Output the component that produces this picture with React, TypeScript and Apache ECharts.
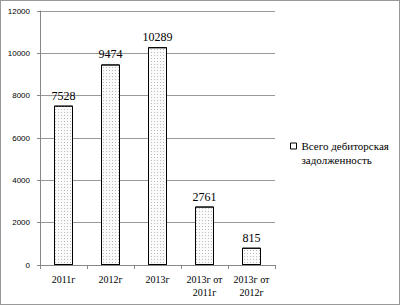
import React, { useEffect, useRef } from "react";
import * as echarts from "echarts";

const categories = ["2011г", "2012г", "2013г", "2013г от\n2011г", "2013г от\n2012г"];
const values = [7528, 9474, 10289, 2761, 815];
const seriesName = "Всего дебиторская задолженность";
const legendLines = ["Всего дебиторская", "задолженность"];
const yTicks = [0, 2000, 4000, 6000, 8000, 10000, 12000];

const serif = "Liberation Serif";

export default function App() {
  const ref = useRef<HTMLDivElement>(null);
  useEffect(() => {
    if (!ref.current) return;
    const chart = echarts.init(ref.current, null, { renderer: "svg" });
    const legendText = {
      fontFamily: serif,
      fontSize: 11,
      color: "#000",
      lineHeight: 14,
    };
    chart.setOption({
      animation: false,
      backgroundColor: "#fff",
      textStyle: { fontFamily: serif },
      grid: { left: 39, right: 124, top: 10, bottom: 39 },
      legend: {
        show: true,
        orient: "vertical",
        left: 289,
        top: 124,
        padding: 0,
        itemWidth: 6,
        itemHeight: 6,
        icon: "rect",
        formatter: () => "\n" + legendLines.join("\n"),
        textStyle: legendText,
        itemStyle: { color: "#fff", borderColor: "#000", borderWidth: 1, decal: "none" },
        data: [{ name: seriesName, textStyle: legendText }],
      },
      xAxis: {
        type: "category",
        data: categories,
        axisLine: { lineStyle: { color: "#888", width: 1 } },
        axisTick: { show: true, length: 4, lineStyle: { color: "#888" } },
        axisLabel: {
          fontFamily: serif,
          fontSize: 10,
          color: "#000",
          lineHeight: 13,
          margin: 8,
          interval: 0,
        },
      },
      yAxis: {
        type: "value",
        min: yTicks[0],
        max: yTicks[yTicks.length - 1],
        interval: 2000,
        axisLine: { show: true, lineStyle: { color: "#888" } },
        axisTick: { show: true, length: 3, lineStyle: { color: "#888" } },
        splitLine: { lineStyle: { color: "#999", width: 1 } },
        axisLabel: {
          fontFamily: "Liberation Sans",
          fontSize: 8,
          color: "#000",
          margin: 10,
          formatter: (v: number) => String(v),
        },
      },
      series: [
        {
          name: seriesName,
          type: "bar",
          data: values,
          barWidth: 19,
          itemStyle: {
            color: "#fbfbfb",
            borderColor: "#000",
            borderWidth: 1,
            decal: {
              symbol: "rect",
              symbolSize: 1,
              color: "#bbb",
              dashArrayX: [1, 2],
              dashArrayY: [1, 2],
              rotation: 0,
            },
          },
          label: {
            show: true,
            position: "top",
            distance: 4,
            fontFamily: serif,
            fontSize: 12,
            color: "#000",
          },
        },
      ],
    });
    return () => chart.dispose();
  }, []);
  return (
    <div
      ref={ref}
      style={{
        position: "fixed",
        left: 0,
        top: 0,
        width: 400,
        height: 305,
        boxSizing: "border-box",
        border: "1px solid #999",
      }}
    />
  );
}
